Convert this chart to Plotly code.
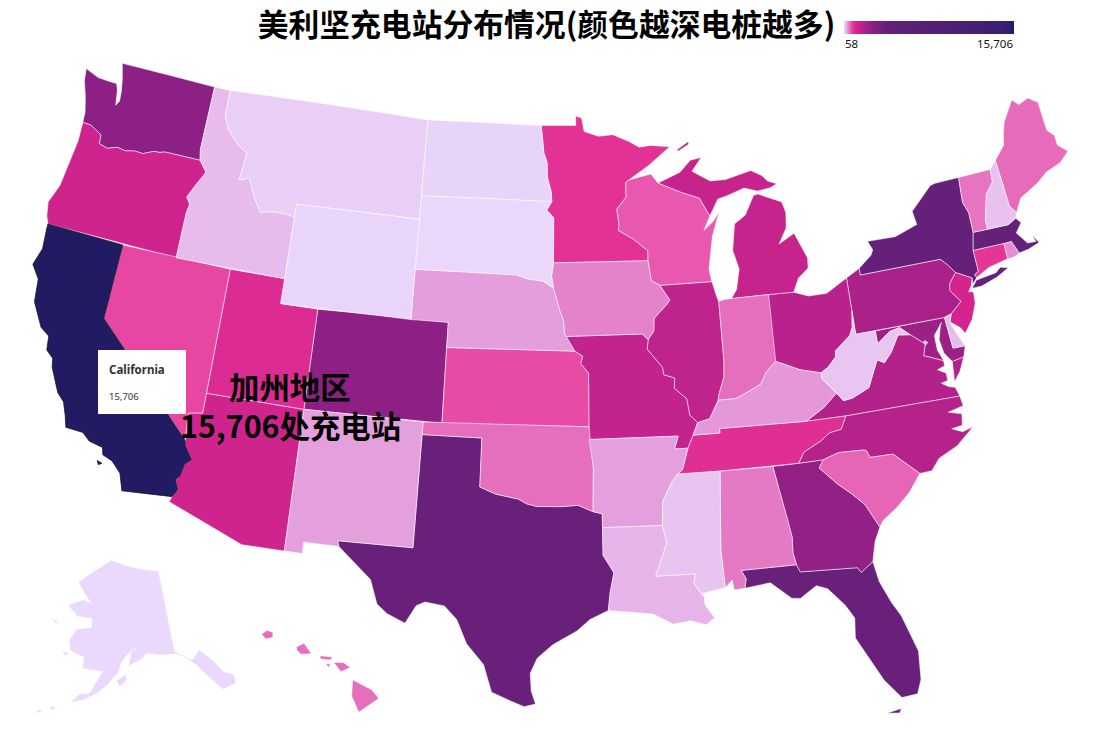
import plotly.graph_objects as go
from plotly.colors import hex_to_rgb

title = "美利坚充电站分布情况(颜色越深电桩越多)"
states = ["NY","MA","TX","FL","WA","CO","GA","MD","PA","VA","NC","OH","IL","MO","MI","AZ","OR","NJ","UT","TN","MN","CT","NV","KS","WI","SC","IN","AL","OK","VT","ME","IA","HI","RI","KY","NE","NM","AR","LA","ID","DE","MS","WV","MT","NH","DC","ND","SD","WY","AK","CA"]
stations = [3900,3900,3800,3800,2650,2600,2500,2300,2050,1850,1800,1700,1600,1550,1450,1300,1300,1150,1050,1000,950,900,780,760,700,640,590,540,590,570,610,500,590,450,400,370,365,360,260,230,220,180,170,120,200,180,90,70,80,58,15706]
stops = [0, 0.008, 0.02, 0.05, 0.07, 0.16, 0.25, 0.95, 1]
stop_colors = ["#ead9fc","#e8c4f0","#e49edc","#e83a9a","#d6248f","#8f2085","#632078","#3b1f72","#201b63"]
legend_labels = ["58","15,706"]
tip_name = "California"
tip_value = "15,706"
note_lines = ["加州地区","15,706处充电站"]

# Simplified state outlines, longitude / latitude
RED = [(-97.23,49),(-97.14,48.5),(-97.05,47.9),(-96.85,47.5),(-96.82,46.9),(-96.6,46.33),(-96.56,45.94)]
SNAKE = [(-117.03,42),(-117.03,43.83),(-116.95,44.2),(-117.2,44.45),(-116.85,45.0),(-116.5,45.5),(-116.46,45.6),(-116.92,46.0),(-117.04,46.42)]
COLUMBIA = [(-116.92,46.0),(-118.98,46.0),(-119.3,45.93),(-119.6,45.92),(-120.2,45.72),(-120.65,45.74),(-121.2,45.65),(-121.7,45.7),(-122.25,45.55),(-122.75,45.65),(-122.8,46.0),(-123.2,46.15),(-123.5,46.26),(-124.0,46.27)]
BITTER = [(-116.05,48.0),(-115.7,47.45),(-115.0,46.95),(-114.35,46.65),(-114.5,45.56),(-113.95,45.7),(-113.45,44.95),(-113.0,44.45),(-112.3,44.55),(-111.5,44.55),(-111.05,44.48)]
COLORADO = [(-114.04,36.2),(-114.74,36.1),(-114.63,35.0),(-114.57,34.8),(-114.14,34.3),(-114.43,34.08),(-114.53,33.6),(-114.72,33.4),(-114.52,33.03),(-114.72,32.72)]
MO_UP = [(-95.31,40),(-95.85,40.7),(-95.9,41.2),(-96.1,41.6),(-96.25,42.0),(-96.45,42.5)]
REDS = [(-100,34.56),(-99.2,34.3),(-98.1,34.13),(-97.7,33.95),(-97.2,33.85),(-96.6,33.85),(-96.0,33.85),(-95.2,33.9),(-94.48,33.64)]
RIO = [(-97.15,25.96),(-97.65,25.85),(-98.2,26.05),(-99.1,26.4),(-99.5,27.5),(-100.3,28.3),(-100.8,29.25),(-101.4,29.77),(-102.3,29.88),(-102.7,29.7),(-103.15,28.98),(-104.0,29.3),(-104.5,29.65),(-104.9,30.6),(-106.0,31.4),(-106.53,31.78)]
MISS_N = [(-91.42,40.38),(-91.5,40.0),(-90.75,39.25),(-90.7,38.95),(-90.15,38.8),(-90.2,38.4),(-89.6,37.95),(-89.5,37.3),(-89.13,36.98)]
MISS_S = [(-89.7,36.0),(-90.05,35.15),(-90.3,35.0),(-90.6,34.7),(-91.1,33.95),(-91.17,33.0)]
UMISS = [(-91.22,43.5),(-91.1,42.7),(-90.65,42.5),(-90.15,41.9),(-90.3,41.75),(-91.05,41.2),(-91.1,40.7),(-91.42,40.38)]
WAB = [(-87.53,39.35),(-87.6,38.7),(-87.95,38.0),(-88.0,37.8)]
OHIO = [(-88.0,37.8),(-87.1,37.8),(-86.5,38.0),(-85.75,38.27),(-85.4,38.73),(-84.85,39.1),(-84.3,38.9),(-83.65,38.65),(-82.6,38.42)]
OHIO_E = [(-82.6,38.42),(-82.2,38.6),(-81.75,38.95),(-81.7,39.2),(-80.85,39.7),(-80.65,40.0),(-80.52,40.64)]
VAWV = [(-77.72,39.32),(-78.35,39.4),(-78.87,38.77),(-79.3,38.42),(-79.65,38.58),(-80.3,37.55),(-81.2,37.25),(-81.68,37.2),(-81.97,37.54)]
POTOMAC = [(-76.3,38.05),(-76.95,38.3),(-77.25,38.4),(-77.05,38.85),(-77.72,39.32)]
BLUE = [(-81.68,36.59),(-82,36.1),(-82.6,36.03),(-83.1,35.75),(-84.0,35.4),(-84.32,34.99)]
SAV = [(-83.1,35),(-83.35,34.7),(-82.6,34),(-81.95,33.5),(-81.4,33.0),(-80.87,32.03)]
CHATT = [(-85.18,32.87),(-85.05,32.1),(-85.1,31.5),(-85,31)]
NYPA = [(-75.35,42),(-75.05,41.75),(-74.7,41.36)]
NJPA = [(-74.7,41.36),(-75.13,40.98),(-75.2,40.7),(-74.75,40.2),(-75.4,39.8)]
CTRV = [(-72.46,42.73),(-72.46,43.1),(-72.05,44.1),(-71.55,44.5),(-71.5,45.01)]
STCROIX = [(-92.29,46.66),(-92.29,46.08),(-92.85,45.6),(-92.75,45.0),(-92.8,44.75),(-92.0,44.4),(-91.2,43.9),(-91.22,43.5)]
R = lambda line: list(reversed(line))

outlines = {
 "WA": [[(-124.73,48.38),(-124.63,47.9),(-124.3,47.3),(-124.05,46.7)] + R(COLUMBIA) + [(-117.04,46.42),(-117.03,49),(-122.76,49),(-122.5,48.4),(-122.35,47.9),(-122.3,47.5),(-122.45,47.3),(-122.6,47.9),(-122.75,48.15),(-123.15,48.15),(-123.9,48.17)]],
 "OR": [[(-124.0,46.27),(-123.95,45.5),(-124.07,44.6),(-124.2,43.6),(-124.55,42.84),(-124.4,42.3),(-124.21,42.0)] + SNAKE[:-1] + COLUMBIA[1:-1]],
 "CA": [[(-124.21,42.0),(-120,42),(-120,39)] + COLORADO[2:] + [(-117.12,32.53),(-117.25,32.85),(-117.4,33.2),(-117.9,33.6),(-118.4,33.75),(-118.5,34.03),(-119.2,34.15),(-119.6,34.42),(-120.47,34.45),(-120.65,34.9),(-120.9,35.4),(-121.3,35.7),(-121.9,36.6),(-122.0,36.95),(-122.4,37.2),(-122.5,37.75),(-123.0,38.0),(-123.7,38.9),(-123.85,39.8),(-124.35,40.3),(-124.1,41.0),(-124.2,41.8)],
        [(-118.6,33.48),(-118.35,33.42),(-118.5,33.33)]],
 "NV": [[(-120,42),(-114.04,42),(-114.04,36.2),(-114.74,36.1),(-114.63,35.0),(-120,39)]],
 "ID": [[(-117.04,46.42),(-117.03,49),(-116.05,49)] + BITTER + [(-111.05,42)] + SNAKE[:-1]],
 "MT": [[(-116.05,49),(-104.05,49),(-104.05,45),(-111.05,45)] + R(BITTER)],
 "WY": [[(-111.05,45),(-104.05,45),(-104.05,41),(-111.05,41)]],
 "ND": [[(-104.05,49)] + RED + [(-104.05,45.94)]],
 "SD": [[(-104.05,45.94),(-96.56,45.94),(-96.85,45.6),(-96.45,45.3),(-96.45,43.5),(-96.55,43.0),(-96.45,42.5),(-97.0,42.77),(-97.85,42.85),(-98.5,43.0),(-104.05,43.0)]],
 "NE": [[(-104.05,43),(-98.5,43),(-97.85,42.85),(-97.0,42.77)] + R(MO_UP) + [(-102.05,40),(-102.05,41),(-104.05,41)]],
 "KS": [[(-102.05,40),(-95.31,40),(-94.9,39.8),(-95.0,39.5),(-94.6,39.12),(-94.62,37),(-102.04,37)]],
 "CO": [[(-109.05,41),(-102.05,41),(-102.05,37),(-109.05,37)]],
 "UT": [[(-114.04,42),(-111.05,42),(-111.05,41),(-109.05,41),(-109.05,37),(-114.04,37)]],
 "AZ": [[(-114.04,37),(-109.05,37),(-109.05,31.33),(-111.07,31.33),(-114.81,32.5)] + R(COLORADO)],
 "NM": [[(-109.05,37),(-103,37),(-103.04,32),(-106.62,32),(-106.53,31.78),(-108.2,31.78),(-108.2,31.33),(-109.05,31.33)]],
 "OK": [[(-103,37),(-94.62,37),(-94.43,35.4)] + R(REDS) + [(-100,36.5),(-103,36.5)]],
 "TX": [[(-106.62,32),(-103.04,32),(-103,36.5),(-100,36.5)] + REDS + [(-94.04,33.55),(-94.04,33.0),(-94.04,31.9),(-93.55,31.2),(-93.75,30.4),(-93.85,29.7),(-94.7,29.35),(-95.3,28.9),(-96.4,28.35),(-97.1,27.8),(-97.4,27.2),(-97.35,26.5)] + RIO],
 "MN": [[(-97.23,49),(-95.15,49),(-95.15,49.38),(-94.8,49.3),(-94.65,48.75),(-93.8,48.55),(-92.95,48.6),(-92.0,48.3),(-91.4,48.05),(-90.75,48.1),(-89.6,48.0),(-90.9,47.3),(-92.1,46.75)] + STCROIX + [(-96.45,43.5),(-96.45,45.3),(-96.85,45.6)] + R(RED)[:-1]],
 "IA": [[(-96.45,43.5)] + UMISS + [(-91.73,40.61),(-95.77,40.58),(-95.85,40.7),(-95.9,41.2),(-96.1,41.6),(-96.25,42.0),(-96.45,42.5),(-96.55,43.0)]],
 "MO": [[(-95.77,40.58),(-91.73,40.61)] + MISS_N + [(-89.4,36.5),(-89.7,36.0),(-90.37,36.0),(-90.15,36.5),(-94.62,36.5),(-94.62,37),(-94.6,39.12),(-95.0,39.5),(-94.9,39.8),(-95.31,40)]],
 "AR": [[(-94.62,36.5),(-90.15,36.5),(-90.37,36.0)] + MISS_S + [(-94.04,33.0),(-94.04,33.55),(-94.48,33.64),(-94.43,35.4)]],
 "LA": [[(-94.04,33.0),(-91.17,33.0),(-91.0,32.3),(-91.6,31.0),(-89.73,31.0),(-89.85,30.65),(-89.53,30.2),(-89.4,30.05),(-89.4,29.75),(-89.0,29.2),(-89.4,28.95),(-90.1,29.15),(-90.9,29.05),(-91.8,29.5),(-92.3,29.55),(-93.85,29.7),(-93.75,30.4),(-93.55,31.2),(-94.04,31.9)]],
 "MS": [[(-90.3,35),(-88.2,35),(-88.47,31.9),(-88.4,30.37),(-89.53,30.2),(-89.85,30.65),(-89.73,31),(-91.6,31),(-91,32.3),(-91.17,33),(-91.1,33.95),(-90.6,34.7)]],
 "TN": [[(-90.3,35),(-90.05,35.15),(-89.7,36),(-89.4,36.5),(-88.05,36.5),(-88.05,36.68),(-83.68,36.6)] + BLUE + [(-88.2,35)]],
 "KY": [[(-89.4,36.5),(-89.13,36.98),(-88.5,37.1)] + OHIO + [(-82.6,38.17),(-81.97,37.54),(-82.7,37.05),(-83.68,36.6),(-88.05,36.68),(-88.05,36.5)]],
 "IL": [[(-90.65,42.5),(-87.8,42.5),(-87.6,41.85),(-87.52,41.7)] + WAB + [(-88.5,37.1)] + R(MISS_N)[:-1] + [(-91.42,40.38),(-91.1,40.7),(-91.05,41.2),(-90.3,41.75),(-90.15,41.9)]],
 "IN": [[(-87.52,41.7),(-87.2,41.75),(-86.82,41.76),(-84.81,41.76),(-84.85,39.1)] + R(OHIO)[4:-1] + R(WAB)],
 "OH": [[(-84.81,41.76),(-83.45,41.73),(-82.7,41.5),(-81.7,41.5),(-80.52,41.98),(-80.52,40.64)] + R(OHIO_E)[1:] + R(OHIO)[1:5]],
 "WV": [OHIO_E + [(-80.52,39.72),(-79.48,39.72),(-79.48,39.2),(-78.75,39.6),(-78.2,39.68)] + VAWV + [(-82.6,38.17)]],
 "VA": [[(-83.68,36.6),(-81.68,36.59),(-75.87,36.55),(-76.0,36.93),(-76.3,37.0),(-76.65,37.2),(-76.3,37.25),(-76.3,37.55),(-76.7,37.75),(-76.3,37.85)] + POTOMAC + VAWV[1:] + [(-82.7,37.05)],
        [(-75.97,37.15),(-75.87,37.95),(-75.25,38.03),(-75.6,37.5)]],
 "NC": [[(-84.32,34.99)] + R(BLUE)[1:] + [(-75.87,36.55),(-75.8,36.15),(-76.6,36.02),(-75.95,35.85),(-76.05,35.4),(-76.6,35.35),(-76.1,35.15),(-75.55,35.25),(-76.5,34.65),(-77.5,34.3),(-77.95,33.87),(-78.55,33.86),(-79.67,34.8),(-80.8,34.82),(-80.93,35.1),(-81.04,35.15),(-82.3,35.2),(-83.1,35.0)]],
 "SC": [[(-83.1,35),(-82.3,35.2),(-81.04,35.15),(-80.93,35.1),(-80.8,34.82),(-79.67,34.8),(-78.55,33.86),(-79.2,33.2),(-79.9,32.7),(-80.7,32.25)] + R(SAV)[:-1]],
 "GA": [[(-85.6,34.98),(-84.32,34.99)] + SAV + [(-81.2,31.5),(-81.45,30.72),(-82.05,30.36),(-82.2,30.57),(-84.86,30.7)] + R(CHATT)[:-1]],
 "FL": [[(-87.6,31),(-85,31),(-84.86,30.7),(-82.2,30.57),(-82.05,30.36),(-81.45,30.72),(-81.3,29.9),(-80.9,29.0),(-80.55,28.4),(-80.05,26.9),(-80.15,25.75),(-80.4,25.2),(-81.1,25.15),(-81.75,25.95),(-82.15,26.7),(-82.75,27.8),(-82.65,28.6),(-83.0,29.15),(-83.7,29.9),(-84.2,30.08),(-85.0,29.65),(-85.4,29.7),(-86.3,30.4),(-87.5,30.28),(-87.4,30.65)],
        [(-81.85,24.62),(-81.2,24.72),(-81.3,24.55)]],
 "AL": [[(-88.2,35),(-85.6,34.98)] + CHATT + [(-87.6,31),(-87.4,30.65),(-87.5,30.28),(-88.0,30.25),(-88.05,30.65),(-88.4,30.37),(-88.47,31.9)]],
 "MI": [[(-86.82,41.76),(-86.5,42.1),(-86.25,42.9),(-86.5,43.65),(-86.25,44.7),(-85.6,45.0),(-85.0,45.75),(-84.75,45.78),(-83.45,45.35),(-83.3,44.9),(-83.4,44.3),(-83.9,43.7),(-83.0,44.05),(-82.45,43.0),(-82.5,42.6),(-83.1,42.25),(-83.45,41.73),(-84.81,41.76)],
        [(-90.42,46.57),(-89.1,46.95),(-88.45,47.4),(-87.8,47.47),(-88.4,46.95),(-87.4,46.5),(-86.5,46.5),(-85.0,46.75),(-84.4,46.5),(-84.1,46.25),(-83.6,46.1),(-84.0,45.97),(-84.75,45.9),(-85.5,46.08),(-86.5,45.85),(-87.05,45.75),(-87.6,45.1),(-88.1,45.85),(-89.1,46.13)],
        [(-89.2,47.85),(-88.5,48.15),(-88.45,48.05),(-89.1,47.8)]],
 "WI": [[(-92.29,46.66),(-92.1,46.75),(-90.8,46.95),(-90.42,46.57),(-89.1,46.13),(-88.1,45.85),(-87.6,45.1),(-88.0,44.55),(-87.4,44.9),(-87.05,45.25),(-87.55,44.3),(-87.9,43.0),(-87.8,42.5),(-90.65,42.5),(-91.1,42.7)] + R(STCROIX)[:-1]],
 "PA": [[(-80.52,41.98),(-79.76,42.27),(-79.76,42)] + NYPA + NJPA[1:] + [(-75.79,39.72),(-80.52,39.72)]],
 "NY": [[(-79.76,42.27),(-79.0,42.7),(-78.85,42.9),(-79.05,43.27),(-77.5,43.25),(-76.2,43.55),(-76.3,44.1),(-75.0,44.95),(-74.7,45.0),(-73.34,45.01),(-73.45,44.0),(-73.25,43.55),(-73.27,42.75),(-73.5,42.05),(-73.49,41.2),(-73.73,41.1),(-73.65,40.98),(-73.95,40.75),(-73.9,41.0),(-74.7,41.36)] + R(NYPA)[1:] + [(-79.76,42)],
        [(-74.03,40.6),(-73.7,40.88),(-72.6,40.98),(-72.3,41.15),(-71.9,41.05),(-72.6,40.8),(-73.5,40.6)]],
 "NJ": [[(-73.9,41.0)] + NJPA + [(-75.55,39.5),(-75.1,39.2),(-74.9,38.93),(-74.4,39.4),(-74.05,40.0),(-74.0,40.45),(-74.25,40.5),(-74.05,40.7)]],
 "DE": [[(-75.79,39.72),(-75.4,39.8),(-75.55,39.5),(-75.4,39.1),(-75.05,38.45),(-75.69,38.46)]],
 "MD": [[(-79.48,39.72),(-75.79,39.72),(-75.69,38.46),(-75.05,38.45),(-75.25,38.03),(-75.87,37.95),(-76.2,38.35),(-76.3,38.9),(-76.1,39.4),(-76.0,39.55),(-76.5,39.1),(-76.5,38.5),(-76.4,38.3)] + POTOMAC + [(-78.2,39.68),(-78.75,39.6),(-79.48,39.2)]],
 "DC": [[(-77.12,38.93),(-77.04,38.99),(-76.91,38.89),(-77.04,38.79)]],
 "CT": [[(-73.5,42.05),(-71.8,42.02),(-71.8,41.4),(-72.9,41.25),(-73.65,40.98),(-73.73,41.1),(-73.49,41.2)]],
 "RI": [[(-71.8,42.02),(-71.38,42.02),(-71.13,41.5),(-71.45,41.4),(-71.8,41.4)]],
 "MA": [[(-73.5,42.05),(-73.27,42.75),(-72.46,42.73),(-71.3,42.7),(-70.82,42.87),(-70.6,42.65),(-71.0,42.3),(-70.55,41.8),(-70.1,41.77),(-70.2,42.07),(-69.95,41.7),(-70.6,41.55),(-71.13,41.5),(-71.38,42.02),(-71.8,42.02)]],
 "VT": [[(-73.34,45.01)] + R(CTRV) + [(-73.27,42.75),(-73.25,43.55),(-73.45,44)]],
 "NH": [CTRV + [(-71.08,45.3),(-70.98,43.4),(-70.7,43.07),(-70.82,42.87),(-71.3,42.7)]],
 "ME": [[(-71.08,45.3),(-70.4,45.8),(-70.25,46.2),(-70.0,46.7),(-69.23,47.46),(-68.9,47.2),(-68.3,47.35),(-67.8,47.07),(-67.78,45.9),(-67.45,45.6),(-67.45,45.2),(-66.98,44.85),(-67.6,44.5),(-68.5,44.3),(-69.1,44.0),(-69.8,43.75),(-70.25,43.6),(-70.7,43.07),(-70.98,43.4)]],
 "AK": [[(-141,69.65),(-141,60.3),(-137.5,58.9),(-135.5,59.8),(-133.4,58.4),(-131.8,56.6),(-130,55.9),(-130.2,54.9),(-133,54.7),(-134.5,56),(-136,57.3),(-137,58.3),(-139,59.4),(-141,60),(-144,60.1),(-147.5,60.5),(-148.5,60),(-151.8,59.2),(-151,61),(-149.9,61.2),(-152,60.5),(-153.5,59.5),(-154,58.5),(-156.5,57),(-158.5,56),(-161,55.2),(-163.5,54.7),(-162,55.8),(-160,56),(-157.5,58.6),(-162,58.7),(-162,60),(-165.3,60.5),(-166,61.6),(-164.8,63),(-161,63.5),(-161,64.5),(-165,64.5),(-168.1,65.6),(-164,66.5),(-161.8,66.2),(-163.7,67.1),(-166.5,68.4),(-163,69.6),(-156.6,71.35),(-152,70.8),(-146,70.1)],
        [(-154.5,57.6),(-152.4,58.3),(-152.3,57.6),(-153.8,56.9)],[(-171.5,63.8),(-169,63.2),(-170.5,63.3)],[(-167.2,60.2),(-165.6,60.3),(-166.1,59.8)],[(-167.5,53.9),(-166.2,53.9),(-166.8,53.4)],[(-170,52.9),(-168.6,53.4),(-168.9,52.9)]],
 "HI": [[(-155.9,20.25),(-155.1,19.85),(-154.8,19.5),(-155.65,18.95),(-155.95,19.6)],[(-156.7,20.95),(-156.3,20.95),(-156,20.75),(-156.4,20.58)],[(-158.28,21.58),(-157.97,21.72),(-157.65,21.3),(-158.1,21.28),(-158.28,21.45)],[(-159.78,22.07),(-159.55,22.23),(-159.3,22.15),(-159.3,21.95),(-159.6,21.88)],[(-157.3,21.22),(-156.75,21.17),(-156.85,21.05),(-157.25,21.08)],[(-157.05,20.9),(-156.85,20.9),(-156.9,20.75)]],
}

W, H = 1100, 734
FONT = "Noto Sans CJK SC"
px = lambda v: v / W
py = lambda v: 1 - v / H
zmin, zmax = min(stations), max(stations)
scale = [[s, c] for s, c in zip(stops, stop_colors)]


def colour(value):
    t = (value - zmin) / (zmax - zmin)
    for (a, ca), (b, cb) in zip(scale, scale[1:]):
        if t <= b:
            f = (t - a) / (b - a)
            r0, r1 = hex_to_rgb(ca), hex_to_rgb(cb)
            return "rgb(%d,%d,%d)" % tuple(round(x + (y - x) * f) for x, y in zip(r0, r1))
    return stop_colors[-1]


def clockwise(ring):
    area = sum(a[0] * b[1] - b[0] * a[1] for a, b in zip(ring, ring[1:] + ring[:1]))
    return ring if area < 0 else ring[::-1]


fig = go.Figure()
for code, value in zip(states, stations):
    lons, lats = [], []
    for ring in outlines[code]:
        ring = clockwise(list(ring))
        ring = ring + ring[:1]
        lons += [p[0] for p in ring] + [None]
        lats += [p[1] for p in ring] + [None]
    fig.add_trace(go.Scattergeo(
        lon=lons[:-1], lat=lats[:-1], mode="lines", fill="toself", fillcolor=colour(value),
        line=dict(color="#111111" if code == "CA" else "rgba(255,255,255,0.75)", width=0.7),
        name=code, text=code, hoverinfo="text", showlegend=False))

# colour scale carrier: invisible points, one per state, so the colour bar comes from the data
fig.add_trace(go.Scattergeo(
    lon=[outlines[c][0][0][0] for c in states], lat=[outlines[c][0][0][1] for c in states],
    mode="markers", hoverinfo="skip", showlegend=False,
    marker=dict(size=1, opacity=0, color=stations, colorscale=scale, cmin=zmin, cmax=zmax, showscale=True,
                colorbar=dict(orientation="h", x=px(844), xanchor="left", y=py(21), yanchor="top",
                              len=170, lenmode="pixels", thickness=13, thicknessmode="pixels",
                              outlinewidth=0, borderwidth=0, xpad=0, ypad=0,
                              ticks="", showticklabels=False))))

fig.update_layout(
    width=W, height=H, margin=dict(l=0, r=0, t=0, b=0),
    paper_bgcolor="white", font_family=FONT,
    geo=dict(scope="usa", projection_type="albers usa", projection_scale=1.187,
             domain=dict(x=[0.0, 1.0], y=[0.0136, 0.94]),
             bgcolor="rgba(0,0,0,0)", showlakes=False, showland=False, showsubunits=False, showcountries=False,
             showocean=False, showrivers=False, showcoastlines=False, showframe=False),
    title=dict(text="<b>%s</b>" % title, x=546.5/W, xanchor="center", y=py(25), yanchor="middle",
               font=dict(size=30.8, color="black", family=FONT)),
    shapes=[dict(type="rect", xref="paper", yref="paper", x0=px(98), x1=px(186), y0=py(414), y1=py(350),
                 fillcolor="white", line_width=0)],
    annotations=[
        dict(text="<b>%s</b>" % tip_name, x=px(107), y=py(369), xref="paper", yref="paper", xanchor="left", yanchor="middle",
             showarrow=False, font=dict(size=11.5, color="#333333", family="Noto Sans")),
        dict(text=tip_value, x=px(107), y=py(396), xref="paper", yref="paper", xanchor="left", yanchor="middle",
             showarrow=False, font=dict(size=9.5, color="#333333", family="Noto Sans")),
        dict(text="<b>%s</b>" % note_lines[0], x=px(290), y=py(386), xref="paper", yref="paper", xanchor="center", yanchor="middle",
             showarrow=False, font=dict(size=30.4, color="black", family=FONT)),
        dict(text="<b>%s</b>" % note_lines[1], x=px(290), y=py(425), xref="paper", yref="paper", xanchor="center", yanchor="middle",
             showarrow=False, font=dict(size=30.4, color="black", family=FONT)),
        dict(text=legend_labels[0], x=px(842.5), y=py(43), xref="paper", yref="paper", xanchor="left", yanchor="middle",
             showarrow=False, font=dict(size=11.5, color="#111111", family="Noto Sans")),
        dict(text=legend_labels[1], x=px(1015), y=py(43), xref="paper", yref="paper", xanchor="right", yanchor="middle",
             showarrow=False, font=dict(size=11.5, color="#111111", family="Noto Sans")),
    ],
)
fig.write_html("out.html", config={"displayModeBar": False},
               post_script="document.body.style.margin='0';document.querySelectorAll('g.geo,g.geo [clip-path]').forEach(function(g){g.removeAttribute('clip-path');});")
